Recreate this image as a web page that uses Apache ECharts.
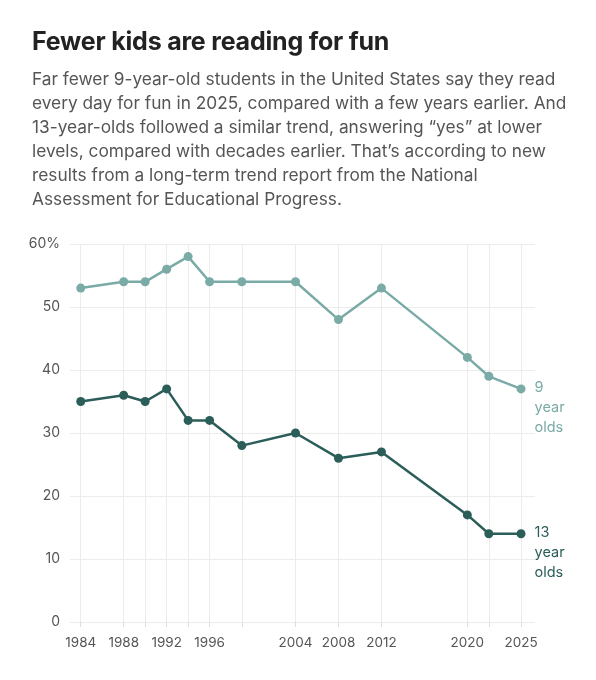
<!DOCTYPE html>
<html>
<head>
<meta charset="utf-8">
<script src="https://cdn.jsdelivr.net/npm/echarts@6.0.0/dist/echarts.min.js"></script>
<style>
  html, body { margin: 0; padding: 0; background: #fff; }
  body { width: 596px; height: 680px; position: relative; font-family: Inter, "Noto Sans", sans-serif; }
  #head { position: absolute; left: 32px; top: 26px; z-index: 2; }
  #head h1 { margin: 0; font-size: 25px; line-height: 30px; font-weight: 700; color: #222; letter-spacing: -0.2px; }
  #head p { margin: 11px 0 0; font-size: 17.3px; line-height: 24px; color: #555; white-space: nowrap; }
  #chart { position: absolute; left: 0; top: 0; width: 596px; height: 680px; }
</style>
</head>
<body>
<div id="chart"></div>
<div id="head">
  <h1>Fewer kids are reading for fun</h1>
  <p>Far fewer 9-year-old students in the United States say they read<br>
  every day for fun in 2025, compared with a few years earlier. And<br>
  13-year-olds followed a similar trend, answering “yes” at lower<br>
  levels, compared with decades earlier. That’s according to new<br>
  results from a long-term trend report from the National<br>
  Assessment for Educational Progress.</p>
</div>
<script>
// survey years
const years = [1984, 1988, 1990, 1992, 1994, 1996, 1999, 2004, 2008, 2012, 2020, 2022, 2025];
// years that get a label under the axis
const labelYears = [1984, 1988, 1992, 1996, 2004, 2008, 2012, 2020, 2025];
// % reading for fun almost every day
const age9 = [53, 54, 54, 56, 58, 54, 54, 54, 48, 53, 42, 39, 37];
const age13 = [35, 36, 35, 37, 32, 32, 28, 30, 26, 27, 17, 14, 14];

const lightTeal = '#7aaba7';
const darkTeal = '#2b5d59';
const gridColor = '#ececec';
const textColor = '#555';

function toPoints(values) {
  return years.map((y, i) => [y, values[i]]);
}

function makeSeries(name, values, color, tag) {
  const last = values.length - 1;
  const data = toPoints(values).map((p, i) => {
    if (i !== last) return p;
    return {
      value: p,
      label: {
        show: true,
        position: 'right',
        distance: 9,
        align: 'left',
        verticalAlign: 'top',
        offset: [0, -11],
        formatter: tag + '\nyear\nolds',
        color: color,
        fontSize: 14.5,
        lineHeight: 20,
        fontFamily: 'Inter, "Noto Sans", sans-serif'
      }
    };
  });
  return {
    name: name,
    type: 'line',
    data: data,
    symbol: 'circle',
    symbolSize: 9,
    lineStyle: { width: 2.5, color: color },
    itemStyle: { color: color },
    z: 3
  };
}

const chart = echarts.init(document.getElementById('chart'));

const s9 = makeSeries('9 year olds', age9, lightTeal, '9');
// vertical grid lines at every survey year
s9.markLine = {
  silent: true,
  symbol: 'none',
  label: { show: false },
  lineStyle: { color: gridColor, type: 'solid', width: 1 },
  data: years.map(y => ({ xAxis: y })),
  z: 1
};

chart.setOption({
  animation: false,
  textStyle: { fontFamily: 'Inter, "Noto Sans", sans-serif' },
  grid: { left: 70, right: 61, top: 244, bottom: 58 },
  xAxis: {
    type: 'value',
    min: 1983,
    max: 2026.3,
    axisLine: { show: false },
    splitLine: { show: false },
    axisTick: {
      show: true,
      customValues: years,
      length: 5,
      lineStyle: { color: '#dcdcdc' }
    },
    axisLabel: {
      customValues: labelYears,
      formatter: v => String(v),
      color: textColor,
      fontSize: 13.5,
      margin: 14
    }
  },
  yAxis: {
    type: 'value',
    min: 0,
    max: 60,
    interval: 10,
    axisLine: { show: false },
    axisTick: { show: false },
    splitLine: { lineStyle: { color: gridColor, width: 1 } },
    axisLabel: {
      color: textColor,
      fontSize: 14,
      margin: 10,
      formatter: v => (v === 60 ? v + '%' : String(v))
    }
  },
  series: [
    s9,
    makeSeries('13 year olds', age13, darkTeal, '13')
  ]
});
</script>
</body>
</html>
